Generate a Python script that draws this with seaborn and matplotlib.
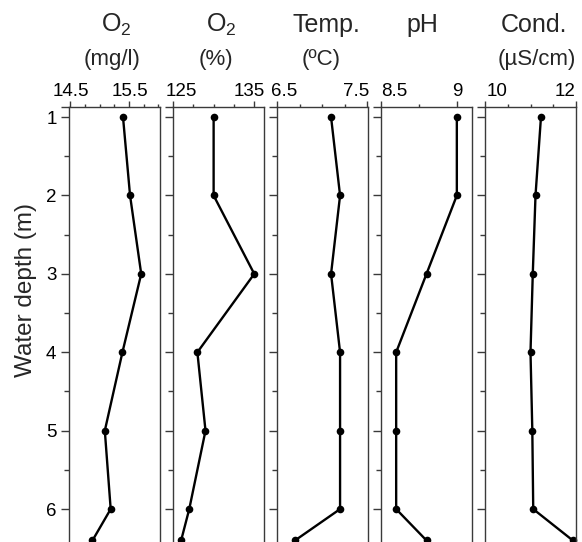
import numpy as np
import pandas as pd
import matplotlib
matplotlib.use("Agg")
import matplotlib.pyplot as plt
from matplotlib.ticker import FixedLocator, MultipleLocator
from matplotlib.transforms import ScaledTranslation
import seaborn as sns

# ---- data ----
depth = [1, 2, 3, 4, 5, 6, 6.4]
o2_mg = [15.40, 15.52, 15.71, 15.39, 15.09, 15.19, 14.88]
o2_pct = [130.0, 130.0, 135.0, 128.0, 129.0, 127.0, 126.0]
temp = [7.1, 7.2, 7.1, 7.2, 7.2, 7.2, 6.7]
ph = [9.0, 9.0, 8.8, 8.6, 8.6, 8.6, 8.8]
cond = [11.23, 11.11, 11.05, 11.0, 11.04, 11.06, 11.93]

titles = ["O$_\\mathregular{2}$", "O$_\\mathregular{2}$", "Temp.", "pH", "Cond."]
units = ["(mg/l)", "(%)", "(\u00baC)", "", "(\u00b5S/cm)"]
series = [o2_mg, o2_pct, temp, ph, cond]
major_ticks = [[14.5, 15.5], [125, 135], [6.5, 7.5], [8.5, 9], [10, 12]]
major_labels = [["14.5", "15.5"], ["125", "135"], ["6.5", "7.5"], ["8.5", "9"], ["10", "12"]]
minor_steps = [0.25, 2.5, 0.25, 0.25, 0.5]
xlims = [(14.48, 16.03), (125, 136.2), (6.5, 7.51), (8.5, 9.1), (10, 12)]
depth_ticks = [1, 2, 3, 4, 5, 6]
depth_labels = ["1", "2", "3", "4", "5", "6"]
ylabel = "Water depth (m)"

sns.set_theme(style="ticks")
plt.rcParams["font.family"] = ["Liberation Sans", "DejaVu Sans"]
plt.rcParams["mathtext.fontset"] = "custom"
plt.rcParams["mathtext.rm"] = "Liberation Sans"
plt.rcParams["mathtext.it"] = "Liberation Sans"

W, H = 582, 542
DPI = 100
fig = plt.figure(figsize=(W / DPI, H / DPI), dpi=DPI)

lefts = [69, 173, 277, 381, 485]
pw = 91
ytop, ybot = 0.865, 6.6
top_px = 106.5
ppm = 78.4
bot_px = top_px + (ybot - ytop) * ppm

# pixel shifts of the top tick labels (keep them inside each panel)
label_shift = [[1, 1], [8, -5], [7, -11], [13, 0], [12, -11]]
title_x = [116, 221, 326, 422, 534]
unit_x = [112.5, 216, 321, 0, 536.5]

spine_col = "#3a3a3a"

for i in range(5):
    ax = fig.add_axes([lefts[i] / W, 1 - bot_px / H, pw / W, (bot_px - top_px) / H])
    df = pd.DataFrame({"val": series[i], "depth": depth})
    sns.lineplot(data=df, x="val", y="depth", orient="y", sort=False, estimator=None,
                 color="black", lw=1.7, marker="o", markersize=5.5, markeredgewidth=0,
                 ax=ax, clip_on=False)
    ax.set_xlim(*xlims[i])
    ax.set_ylim(ybot, ytop)
    ax.xaxis.tick_top()
    ax.xaxis.set_major_locator(FixedLocator(major_ticks[i]))
    ax.xaxis.set_minor_locator(MultipleLocator(minor_steps[i]))
    ax.set_xticklabels(major_labels[i])
    ax.yaxis.set_major_locator(FixedLocator([ytop] + depth_ticks))
    ax.yaxis.set_minor_locator(FixedLocator([1.5, 2.5, 3.5, 4.5, 5.5, 6.5]))
    if i == 0:
        ax.set_yticklabels([""] + depth_labels)
    else:
        ax.set_yticklabels([""] * (len(depth_ticks) + 1))
    ax.set_xlabel("")
    ax.set_ylabel("")
    for s in ["top", "left", "right", "bottom"]:
        ax.spines[s].set_visible(True)
        ax.spines[s].set_color(spine_col)
        ax.spines[s].set_linewidth(1.0)
    ax.tick_params(axis="x", which="major", direction="out", length=4, width=1.0,
                   color=spine_col, pad=1, labelsize=13.5, labelcolor="black")
    ax.tick_params(axis="x", which="minor", direction="out", length=2, width=1.0,
                   color=spine_col)
    ax.tick_params(axis="y", which="major", direction="out", length=6, width=1.0,
                   color=spine_col, pad=3, labelsize=13.5, labelcolor="black")
    ax.tick_params(axis="y", which="minor", direction="out", length=3.5, width=1.0,
                   color=spine_col)
    ax.set_facecolor("none")
    for lab, dx in zip(ax.get_xticklabels(), label_shift[i]):
        lab.set_transform(lab.get_transform() + ScaledTranslation(dx / DPI, 0, fig.dpi_scale_trans))

    fig.text(title_x[i] / W, 1 - 32 / H, titles[i], ha="center", va="baseline", fontsize=18)
    if units[i]:
        fig.text(unit_x[i] / W, 1 - 64.5 / H, units[i], ha="center", va="baseline", fontsize=16)

fig.text(26 / W, 1 - 290 / H, ylabel, rotation=90, ha="center", va="center", fontsize=17.5)

fig.savefig("out.png", dpi=DPI)
